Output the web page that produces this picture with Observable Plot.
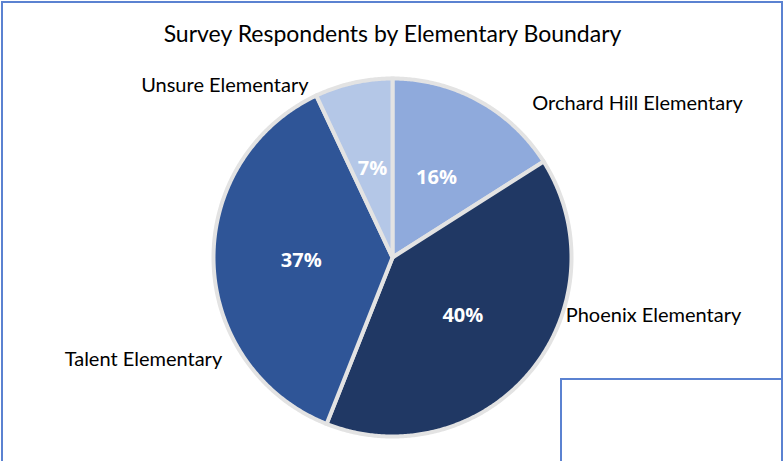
<!DOCTYPE html>
<html>
<head>
<meta charset="utf-8">
<script src="https://cdn.jsdelivr.net/npm/d3@7"></script>
<script src="https://cdn.jsdelivr.net/npm/@observablehq/plot@0.6"></script>
<style>
  html, body { margin: 0; padding: 0; background: #fff; }
  #wrap { position: relative; width: 783px; height: 461px; overflow: hidden; background: #fff; }
  #chart { position: absolute; left: 0; top: 0; }
  #title { position: absolute; left: 0; top: 19px; width: 785px; text-align: center;
           font-family: Lato, "Open Sans", sans-serif; font-size: 23px; color: #000; }
  #frame { position: absolute; left: 1px; top: 1px; width: 782px; height: 520px; box-sizing: border-box;
           border: 2px solid #5b82d1; }
  #box { position: absolute; left: 560px; top: 378px; width: 240px; height: 120px; box-sizing: border-box;
         border: 2px solid #5b82d1; }
</style>
</head>
<body>
<div id="wrap">
  <div id="chart"></div>
  <div id="title">Survey Respondents by Elementary Boundary</div>
  <div id="frame"></div>
  <div id="box"></div>
</div>
<script>
// ---- data ----
const categories = ["Orchard Hill Elementary", "Phoenix Elementary", "Talent Elementary", "Unsure Elementary"];
const shares = [16, 40, 37, 7];
const colors = ["#8FAADC", "#203864", "#2F5597", "#B4C7E7"];

// ---- layout (not data) ----
const W = 783, H = 461, cx = 392, cy = 257, R = 179;
// outside category labels: [angle in degrees clockwise from 12 o'clock, radius in pie radii]
const labelPolar = {
  "Orchard Hill Elementary": [42.3, 1.16],
  "Phoenix Elementary": [108.4, 1.02],
  "Talent Elementary": [239, 1.11],
  "Unsure Elementary": [334, 1.07]
};

const rows = categories.map((c, i) => ({cat: c, share: shares[i]}));
const arcs = d3.pie().sort(null).value(d => d.share)(rows);

const poly = [];
for (const a of arcs) {
  const c = a.data.cat;
  poly.push({cat: c, x: 0, y: 0});
  const n = Math.max(2, Math.ceil((a.endAngle - a.startAngle) / (Math.PI / 360)));
  for (let i = 0; i <= n; i++) {
    const t = a.startAngle + (a.endAngle - a.startAngle) * i / n;
    poly.push({cat: c, x: Math.sin(t), y: Math.cos(t)});
  }
  poly.push({cat: c, x: 0, y: 0});
}

const pct = arcs.map(a => {
  const m = (a.startAngle + a.endAngle) / 2;
  return {label: a.data.share + "%", x: 0.51 * Math.sin(m), y: 0.51 * Math.cos(m)};
});

const names = arcs.map(a => {
  const [deg, r] = labelPolar[a.data.cat];
  const t = deg * Math.PI / 180;
  return {label: a.data.cat, x: r * Math.sin(t), y: r * Math.cos(t)};
});

const plot = Plot.plot({
  width: W, height: H,
  margin: 0,
  style: {background: "transparent"},
  x: {axis: null, domain: [-cx / R, (W - cx) / R], range: [0, W]},
  y: {axis: null, domain: [-(H - cy) / R, cy / R], range: [H, 0]},
  color: {domain: categories, range: colors},
  marks: [
    Plot.line(poly, {x: "x", y: "y", z: "cat", fill: "cat", stroke: "#e3e3e3", strokeWidth: 4,
                     strokeLinejoin: "miter", strokeMiterlimit: 4}),
    Plot.text(pct, {x: "x", y: "y", text: "label", fill: "white", fontWeight: "bold",
                    fontSize: 20, fontFamily: "Open Sans"}),
    Plot.text(names.filter(d => d.x > 0), {x: "x", y: "y", text: "label", textAnchor: "start",
                    fill: "#000", fontSize: 20, fontFamily: "Lato"}),
    Plot.text(names.filter(d => d.x <= 0), {x: "x", y: "y", text: "label", textAnchor: "end",
                    fill: "#000", fontSize: 20, fontFamily: "Lato"})
  ]
});
document.getElementById("chart").appendChild(plot);
</script>
</body>
</html>
